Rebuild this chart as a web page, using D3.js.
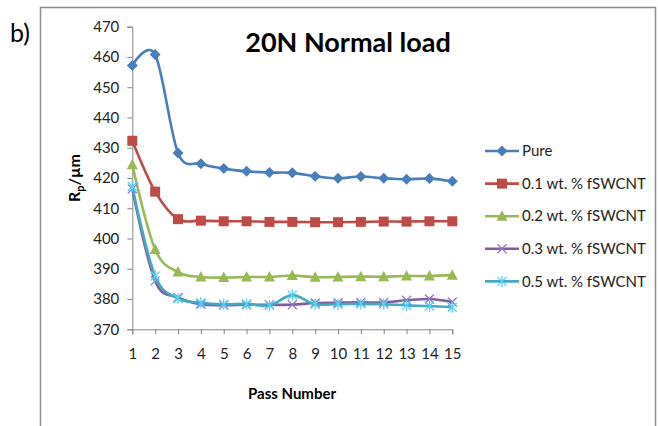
<!DOCTYPE html>
<html>
<head>
<meta charset="utf-8">
<script src="https://cdn.jsdelivr.net/npm/d3@7"></script>
<style>
  body { margin: 0; background: #fff; }
  svg { display: block; }
</style>
</head>
<body>
<svg id="chart"></svg>
<script>
// values
const passes = [1, 2, 3, 4, 5, 6, 7, 8, 9, 10, 11, 12, 13, 14, 15];
const pure = [457.2, 460.8, 428.3, 424.7, 423.1, 422.2, 421.8, 421.7, 420.6, 419.9, 420.5, 419.9, 419.6, 419.8, 418.9];
const wt01 = [432.3, 415.5, 406.4, 405.9, 405.7, 405.7, 405.5, 405.5, 405.4, 405.4, 405.5, 405.6, 405.6, 405.7, 405.7];
const wt02 = [424.4, 396.4, 388.9, 387.3, 387.1, 387.3, 387.3, 387.8, 387.2, 387.3, 387.4, 387.4, 387.6, 387.6, 387.9];
const wt03 = [416.4, 386.0, 380.5, 378.3, 378.0, 378.1, 378.1, 378.1, 378.7, 378.8, 378.9, 378.9, 379.6, 380.0, 379.0];
const wt05 = [417.2, 387.6, 380.2, 378.8, 378.3, 378.4, 377.9, 381.3, 378.3, 378.3, 378.4, 378.3, 377.9, 377.7, 377.3];
const seriesNames = ["Pure", "0.1 wt. % fSWCNT", "0.2 wt. % fSWCNT", "0.3 wt. % fSWCNT", "0.5 wt. % fSWCNT"];
const seriesColors = ["#4a7ebb", "#be4b48", "#98b954", "#7d5fa0", "#46aac5"];
const seriesMarkers = ["diamond", "square", "triangle", "cross", "star"];
const yTicks = [370, 380, 390, 400, 410, 420, 430, 440, 450, 460, 470];

const width = 658, height = 426;
const font = "Lato, 'Open Sans', sans-serif";

const svg = d3.select("#chart")
  .attr("width", width)
  .attr("height", height);

// outer chart frame
svg.append("rect")
  .attr("x", 40.5).attr("y", 7.5)
  .attr("width", 615).attr("height", 440)
  .attr("fill", "none")
  .attr("stroke", "#8c8c8c")
  .attr("stroke-width", 1.5);

svg.append("text")
  .attr("x", 10).attr("y", 42)
  .style("font-family", font)
  .style("font-size", "25px")
  .text("b)");

const x = d3.scaleLinear().domain([1, 15]).range([132.3, 452.3]);
const y = d3.scaleLinear().domain([370, 470]).range([329.3, 26.7]);

// y axis
const yAxis = svg.append("g")
  .attr("transform", "translate(132.3,0)")
  .call(d3.axisLeft(y).tickValues(yTicks).tickSize(5).tickPadding(8));
yAxis.select(".domain").attr("stroke", "#868686");
yAxis.selectAll(".tick line").attr("stroke", "#868686");
yAxis.selectAll("text")
  .style("font-family", font)
  .style("font-size", "15px")
  .attr("fill", "#222");

// x axis
const xAxis = svg.append("g")
  .attr("transform", "translate(0,329.3)")
  .call(d3.axisBottom(x).tickValues(passes).tickSize(5).tickPadding(14).tickFormat(d3.format("d")));
xAxis.select(".domain").attr("stroke", "#868686");
xAxis.selectAll(".tick line").attr("stroke", "#868686");
xAxis.selectAll("text")
  .style("font-family", font)
  .style("font-size", "15px")
  .attr("fill", "#222");

// title and axis titles
svg.append("text")
  .attr("x", 348).attr("y", 52)
  .attr("text-anchor", "middle")
  .style("font-family", font)
  .style("font-size", "27px")
  .style("font-weight", "bold")
  .text("20N Normal load");

svg.append("text")
  .attr("x", 292).attr("y", 399)
  .attr("text-anchor", "middle")
  .style("font-family", font)
  .style("font-size", "15px")
  .style("font-weight", "bold")
  .text("Pass Number");

const yLabel = svg.append("text")
  .attr("transform", "translate(80,178) rotate(-90)")
  .attr("text-anchor", "middle")
  .style("font-family", font)
  .style("font-size", "16px")
  .style("font-weight", "bold");
yLabel.append("tspan").text("R");
yLabel.append("tspan").attr("dy", 4).style("font-size", "11px").text("p");
yLabel.append("tspan").attr("dy", -4).text("/\u00b5m");

// marker shapes
function drawMarker(g, kind, color) {
  if (kind === "diamond") {
    g.append("path").attr("d", "M0,-5.5L5.5,0L0,5.5L-5.5,0Z").attr("fill", color);
  } else if (kind === "square") {
    g.append("rect").attr("x", -5).attr("y", -5).attr("width", 10).attr("height", 10).attr("fill", color);
  } else if (kind === "triangle") {
    g.append("path").attr("d", "M0,-6L5.5,4.5L-5.5,4.5Z").attr("fill", color);
  } else if (kind === "cross") {
    g.append("path").attr("d", "M-4.5,-4.5L4.5,4.5M-4.5,4.5L4.5,-4.5")
      .attr("stroke", d3.color(color).brighter(0.6)).attr("stroke-width", 1.3).attr("fill", "none");
  } else {
    g.append("path").attr("d", "M-4.5,-4.5L4.5,4.5M-4.5,4.5L4.5,-4.5M0,-5.5L0,5.5")
      .attr("stroke", d3.color(color).brighter(0.6)).attr("stroke-width", 1.3).attr("fill", "none");
  }
}

const allSeries = [pure, wt01, wt02, wt03, wt05];
const line = d3.line()
  .x((d, i) => x(passes[i]))
  .y((d) => y(d))
  .curve(d3.curveCardinal.tension(0));

allSeries.forEach(function (vals, si) {
  const g = svg.append("g").attr("class", "series");
  g.append("path")
    .datum(vals)
    .attr("d", line)
    .attr("fill", "none")
    .attr("stroke", seriesColors[si])
    .attr("stroke-width", 2.6);
  g.selectAll("g.marker")
    .data(vals)
    .enter().append("g")
    .attr("class", "marker")
    .attr("transform", (d, i) => "translate(" + x(passes[i]) + "," + y(d) + ")")
    .each(function () { drawMarker(d3.select(this), seriesMarkers[si], seriesColors[si]); });
});

// legend
const legend = svg.append("g");
seriesNames.forEach(function (name, i) {
  const ly = 151 + i * 32.6;
  const lg = legend.append("g");
  lg.append("line")
    .attr("x1", 485).attr("x2", 519)
    .attr("y1", ly).attr("y2", ly)
    .attr("stroke", seriesColors[i])
    .attr("stroke-width", 2.6);
  const m = lg.append("g").attr("transform", "translate(502," + ly + ")");
  drawMarker(m, seriesMarkers[i], seriesColors[i]);
  lg.append("text")
    .attr("x", 522).attr("y", ly)
    .attr("dy", "0.35em")
    .style("font-family", font)
    .style("font-size", "15px")
    .attr("fill", "#222")
    .text(name);
});
</script>
</body>
</html>
